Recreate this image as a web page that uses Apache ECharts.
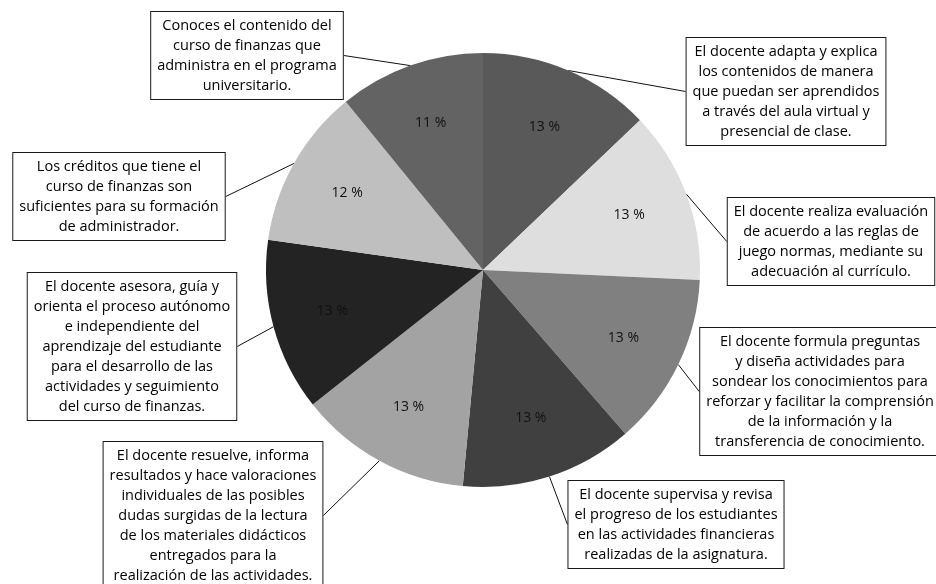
<!DOCTYPE html>
<html>
<head>
<meta charset="utf-8">
<script src="https://cdn.jsdelivr.net/npm/echarts@6/dist/echarts.min.js"></script>
<style>
  html, body { margin: 0; padding: 0; background: #fff; }
  #chart { width: 936px; height: 584px; }
</style>
</head>
<body>
<div id="chart"></div>
<script>
// categorias, en sentido horario desde arriba
var categorias = [
  'El docente adapta y explica\nlos contenidos de manera\nque puedan ser aprendidos\na través del aula virtual y\npresencial de clase.',
  'El docente realiza evaluación\nde acuerdo a las reglas de\njuego normas, mediante su\nadecuación al currículo.',
  'El docente formula preguntas\ny diseña actividades para\nsondear los conocimientos para\nreforzar y facilitar la comprensión\nde la información y la\ntransferencia de conocimiento.',
  'El docente supervisa y revisa\nel progreso de los estudiantes\nen las actividades financieras\nrealizadas de la asignatura.',
  'El docente resuelve, informa\nresultados y hace valoraciones\nindividuales de las posibles\ndudas surgidas de la lectura\nde los materiales didácticos\nentregados para la\nrealización de las actividades.',
  'El docente asesora, guía y\norienta el proceso autónomo\ne independiente del\naprendizaje del estudiante\npara el desarrollo de las\nactividades y seguimiento\ndel curso de finanzas.',
  'Los créditos que tiene el\ncurso de finanzas son\nsuficientes para su formación\nde administrador.',
  'Conoces el contenido del\ncurso de finanzas que\nadministra en el programa\nuniversitario.'
]
// porcentajes
var valores = [13, 13, 13, 13, 13, 13, 12, 11]

var colores = ['#595959', '#dedede', '#808080', '#404040', '#a3a3a3', '#232323', '#bfbfbf', '#636363']
// posicion de cada caja (centro x, borde superior y)
var cajas = [[786, 38], [831, 198], [820, 328], [676, 481], [213, 442], [132, 273], [119, 153], [247, 12]]

var fuente = 'Open Sans'
var chart = echarts.init(document.getElementById('chart'))

var datos = valores.map(function (v, i) {
  return { name: categorias[i], value: v, itemStyle: { color: colores[i] } }
})

chart.setOption({
  animation: false,
  series: [
    {
      type: 'pie',
      center: [483, 270],
      radius: 217,
      startAngle: 90,
      avoidLabelOverlap: false,
      silent: true,
      data: datos,
      label: {
        show: true,
        position: 'outside',
        formatter: '{b}',
        color: '#000',
        fontFamily: fuente,
        fontSize: 14.5,
        lineHeight: 20,
        align: 'center',
        backgroundColor: '#fff',
        borderColor: '#1a1a1a',
        borderWidth: 1,
        padding: [4, 6, 3, 6]
      },
      labelLine: {
        show: true,
        length: 10,
        length2: 0,
        smooth: false,
        lineStyle: { color: '#111', width: 1 }
      },
      labelLayout: function (params) {
        var c = cajas[params.dataIndex]
        return { x: c[0], y: c[1], align: 'center', verticalAlign: 'top' }
      }
    },
    {
      // anillo invisible para ubicar los porcentajes
      type: 'pie',
      center: [483, 270],
      radius: [89, 217],
      startAngle: 90,
      silent: true,
      data: valores.map(function (v) { return { value: v } }),
      itemStyle: { color: 'rgba(0,0,0,0)' },
      label: {
        show: true,
        position: 'inside',
        formatter: '{c} %',
        color: '#111',
        fontFamily: fuente,
        fontSize: 14
      },
      labelLine: { show: false }
    }
  ]
})
</script>
</body>
</html>
